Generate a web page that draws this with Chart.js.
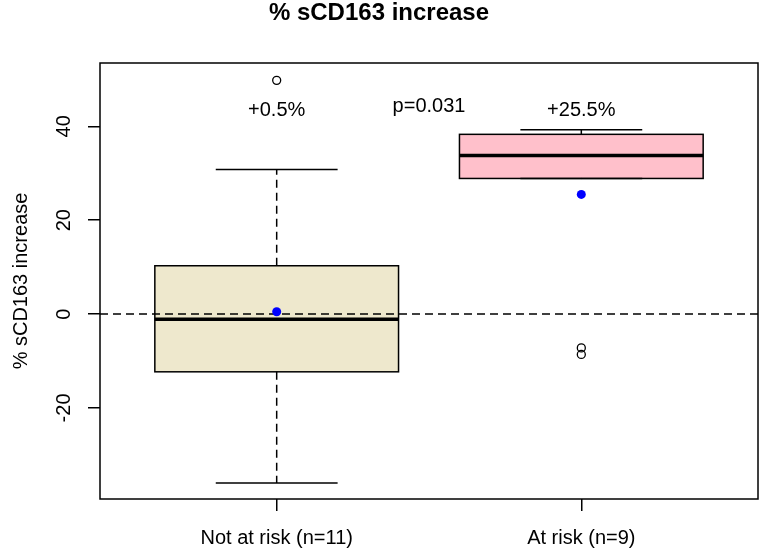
<!DOCTYPE html>
<html>
<head>
<meta charset="utf-8">
<script src="https://cdn.jsdelivr.net/npm/chart.js@4.4.1/dist/chart.umd.min.js"></script>
<style>
  html, body { margin: 0; padding: 0; background: #fff; }
  #wrap { width: 765px; height: 556px; }
</style>
</head>
<body>
<div id="wrap"><canvas id="chart"></canvas></div>
<script>
// group summaries
const groups = ['Not at risk (n=11)', 'At risk (n=9)'];
const groupX = [1, 2];
const boxLow = [-12.3, 28.9];
const boxMedian = [-1.1, 33.8];
const boxHigh = [10.3, 38.3];
const whiskerLow = [-36.0, 28.9];
const whiskerHigh = [30.8, 39.3];
const means = [0.5, 25.5];
const boxColors = ['#EEE8CD', '#FFC0CB'];

const outlierX = [1, 2, 2];
const outlierY = [49.8, -7.2, -8.6];

const yTicks = [-20, 0, 20, 40];

const noteX = [1, 1.5, 2];
const noteY = [43.3, 44.2, 43.4];
const noteText = ['+0.5%', 'p=0.031', '+25.5%'];

const FONT = "'Liberation Sans', Arial, sans-serif";
const LW = 1.5;

const line = (ctx, x1, y1, x2, y2) => {
    ctx.beginPath();
    ctx.moveTo(x1, y1);
    ctx.lineTo(x2, y2);
    ctx.stroke();
};

const boxplotPlugin = {
    id: 'boxplot',
    beforeDatasetsDraw(chart) {
        const { ctx, chartArea, scales: { x, y } } = chart;
        ctx.save();
        ctx.strokeStyle = '#000';

        groupX.forEach((gx, i) => {
            const cx = x.getPixelForValue(gx);
            const left = x.getPixelForValue(gx - 0.4);
            const right = x.getPixelForValue(gx + 0.4);
            const capL = x.getPixelForValue(gx - 0.2);
            const capR = x.getPixelForValue(gx + 0.2);
            const yLo = y.getPixelForValue(boxLow[i]);
            const yHi = y.getPixelForValue(boxHigh[i]);
            const yMed = y.getPixelForValue(boxMedian[i]);
            const wLo = y.getPixelForValue(whiskerLow[i]);
            const wHi = y.getPixelForValue(whiskerHigh[i]);

            // box
            ctx.setLineDash([]);
            ctx.lineWidth = LW;
            ctx.fillStyle = boxColors[i];
            ctx.fillRect(left, yHi, right - left, yLo - yHi);
            ctx.strokeRect(left, yHi, right - left, yLo - yHi);

            // whiskers
            ctx.setLineDash([8, 5]);
            line(ctx, cx, yHi, cx, wHi);
            line(ctx, cx, yLo, cx, wLo);

            // staples
            ctx.setLineDash([]);
            line(ctx, capL, wHi, capR, wHi);
            line(ctx, capL, wLo, capR, wLo);

            // median
            ctx.lineWidth = 3.5;
            line(ctx, left, yMed, right, yMed);
        });

        // reference line at zero
        ctx.lineWidth = LW;
        ctx.setLineDash([8, 5]);
        const y0 = y.getPixelForValue(0);
        line(ctx, chartArea.left, y0, chartArea.right, y0);
        ctx.restore();
    },
    afterDatasetsDraw(chart) {
        const { ctx, scales: { x, y } } = chart;
        ctx.save();
        ctx.fillStyle = '#000';
        ctx.font = `20px ${FONT}`;
        ctx.textAlign = 'center';
        ctx.textBaseline = 'middle';
        noteText.forEach((t, i) => {
            ctx.fillText(t, x.getPixelForValue(noteX[i]), y.getPixelForValue(noteY[i]));
        });
        ctx.restore();
    },
    afterDraw(chart) {
        const { ctx, chartArea } = chart;
        ctx.save();
        ctx.strokeStyle = '#000';
        ctx.lineWidth = LW;
        ctx.strokeRect(chartArea.left, chartArea.top, chartArea.right - chartArea.left, chartArea.bottom - chartArea.top);
        ctx.restore();
    }
};

new Chart(document.getElementById('chart'), {
    type: 'scatter',
    data: {
        datasets: [
            {
                label: 'mean',
                data: groupX.map((gx, i) => ({ x: gx, y: means[i] })),
                pointRadius: 4.5,
                pointBackgroundColor: '#0000FF',
                pointBorderWidth: 0
            },
            {
                label: 'outliers',
                data: outlierX.map((ox, i) => ({ x: ox, y: outlierY[i] })),
                pointRadius: 4,
                pointBackgroundColor: 'rgba(0,0,0,0)',
                pointBorderColor: '#000',
                pointBorderWidth: 1.3
            }
        ]
    },
    options: {
        responsive: true,
        maintainAspectRatio: false,
        animation: false,
        devicePixelRatio: 1,
        layout: { padding: { top: 0, right: 7, bottom: 0, left: 0 } },
        plugins: {
            legend: { display: false },
            tooltip: { enabled: false },
            title: {
                display: true,
                text: '% sCD163 increase',
                color: '#000',
                font: { family: FONT, size: 24, weight: 'bold', lineHeight: 1 },
                padding: { top: 1, bottom: 38 }
            }
        },
        scales: {
            x: {
                type: 'linear',
                min: 0.42,
                max: 2.58,
                afterBuildTicks: axis => { axis.ticks = groupX.map(v => ({ value: v })); },
                afterFit: axis => { axis.height = 57; },
                border: { display: false },
                grid: { drawOnChartArea: false, drawTicks: true, tickLength: 12, color: '#000', lineWidth: LW },
                ticks: {
                    autoSkip: false,
                    maxRotation: 0,
                    padding: 15,
                    color: '#000',
                    font: { family: FONT, size: 20 },
                    callback: v => groups[groupX.indexOf(v)]
                }
            },
            y: {
                min: -39.4,
                max: 53.5,
                afterBuildTicks: axis => { axis.ticks = yTicks.map(v => ({ value: v })); },
                afterFit: axis => { axis.width = 100; },
                border: { display: false },
                grid: { drawOnChartArea: false, drawTicks: true, tickLength: 12, color: '#000', lineWidth: LW },
                title: {
                    display: true,
                    text: '% sCD163 increase',
                    color: '#000',
                    font: { family: FONT, size: 20 },
                    padding: { top: 9, bottom: 0 }
                },
                ticks: {
                    minRotation: 90,
                    maxRotation: 90,
                    crossAlign: 'center',
                    padding: 9,
                    color: '#000',
                    font: { family: FONT, size: 20 },
                    callback: v => String(v)
                }
            }
        }
    },
    plugins: [boxplotPlugin]
});
</script>
</body>
</html>
